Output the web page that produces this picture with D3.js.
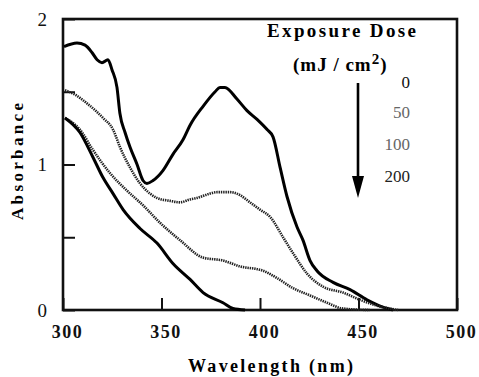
<!DOCTYPE html>
<html>
<head>
<meta charset="utf-8">
<script src="https://cdn.jsdelivr.net/npm/d3@7"></script>
<style>
  body { margin: 0; background: #fff; }
  svg { display: block; }
</style>
</head>
<body>
<div id="chart"></div>
<script>
// data (wavelength nm, absorbance)
var doses = ["0", "50", "100", "200"];

var dose0 = [[300.5,1.81],[307.1,1.835],[311.2,1.82],[314.7,1.77],[317.3,1.72],[319.8,1.70],[322.8,1.72],
  [324.9,1.65],[327.4,1.53],[328.9,1.35],[331.5,1.22],[334.0,1.12],[337.6,1.00],[340.6,0.89],[342.6,0.87],
  [345.7,0.89],[350.8,0.96],[355.8,1.07],[360.9,1.17],[364.5,1.27],[371.1,1.40],[377.2,1.50],[379.7,1.53],
  [382.2,1.53],[388.3,1.45],[393.4,1.37],[398.5,1.31],[403.6,1.24],[406.6,1.19],[410.2,0.98],[413.7,0.78],
  [418.8,0.57],[421.8,0.48],[425.4,0.34],[428.9,0.27],[437.1,0.19],[445.7,0.14],[454.3,0.07],[462.4,0.02],[467.5,0]];

var dose50 = [[301.0,1.51],[306.1,1.48],[312.2,1.42],[320.3,1.32],[325.4,1.24],[328.9,1.12],[334.0,0.98],
  [339.1,0.87],[344.2,0.80],[347.7,0.77],[354.3,0.75],[359.4,0.74],[364.5,0.76],[368.0,0.77],[374.6,0.80],
  [378.2,0.81],[384.8,0.81],[389.8,0.79],[394.9,0.74],[400.0,0.69],[405.1,0.64],[411.7,0.50],[416.8,0.39],
  [423.9,0.25],[432.0,0.16],[442.1,0.12],[450.8,0.07],[459.4,0.03],[466.0,0.01],[470.1,0]];

var dose100 = [[301.0,1.32],[308.6,1.24],[315.2,1.10],[323.9,0.94],[332.5,0.82],[340.6,0.72],[349.2,0.60],
  [359.4,0.48],[371.1,0.36],[381.2,0.34],[389.8,0.30],[401.5,0.27],[408.6,0.22],[416.8,0.15],[425.4,0.10],
  [434.0,0.05],[442.1,0.01],[455.8,0]];

var dose200 = [[301.0,1.32],[308.6,1.22],[315.2,1.05],[320.3,0.91],[325.4,0.80],[330.5,0.69],[339.1,0.56],
  [347.7,0.46],[355.8,0.32],[364.5,0.21],[371.1,0.12],[381.2,0.05],[386.3,0.01],[392.4,0]];

var xTicks = [300, 350, 400, 450, 500];
var yTicks = [0, 0.5, 1, 1.5, 2];

var serif = "Liberation Serif";
var width = 479, height = 377;

var svg = d3.select("#chart")
    .append("svg")
    .attr("width", width)
    .attr("height", height);

var x = d3.scaleLinear().domain([300, 500]).range([63, 457]);
var y = d3.scaleLinear().domain([0, 2]).range([310, 19]);

// x axis, ticks point inward
var gx = svg.append("g")
    .attr("transform", "translate(0," + y(0) + ")")
    .call(d3.axisBottom(x).tickValues(xTicks).tickSize(-12).tickPadding(15).tickFormat(d3.format("d")));
gx.select(".domain").remove();
gx.selectAll("line").attr("stroke", "#111").attr("stroke-width", 2);
gx.selectAll("text")
    .attr("dx", 4)
    .attr("fill", "#111")
    .style("font-family", serif)
    .style("font-size", "18px")
    .style("font-weight", "bold")
    .style("letter-spacing", "1.5px");

// y axis
var gy = svg.append("g")
    .attr("transform", "translate(" + x(300) + ",0)")
    .call(d3.axisLeft(y).tickValues(yTicks).tickSize(-12).tickPadding(16)
        .tickFormat(function(d) { return d % 1 === 0 ? d : ""; }));
gy.select(".domain").remove();
gy.selectAll("line").attr("stroke", "#111").attr("stroke-width", 2);
gy.selectAll("text").attr("fill", "#111").style("font-family", serif).style("font-size", "19px");

// frame
svg.append("rect")
    .attr("x", x(300))
    .attr("y", y(2))
    .attr("width", x(500) - x(300))
    .attr("height", y(0) - y(2))
    .attr("fill", "none")
    .attr("stroke", "#111")
    .attr("stroke-width", 2.6);

var line = d3.line()
    .x(function(d) { return x(d[0]); })
    .y(function(d) { return y(d[1]); })
    .curve(d3.curveMonotoneX);

var series = [
  { name: "0", values: dose0, dotted: false },
  { name: "50", values: dose50, dotted: true },
  { name: "100", values: dose100, dotted: true },
  { name: "200", values: dose200, dotted: false }
];

svg.selectAll("path.spec")
    .data(series)
    .enter()
    .append("path")
    .attr("class", "spec")
    .attr("d", function(d) { return line(d.values); })
    .attr("fill", "none")
    .attr("stroke", function(d) { return d.dotted ? "#222" : "#000"; })
    .attr("stroke-width", function(d) { return d.dotted ? 2.6 : 3; })
    .attr("stroke-dasharray", function(d) { return d.dotted ? "1.4,0.9" : null; })
    .attr("stroke-linejoin", "round");

// axis titles
svg.append("text")
    .attr("x", 188)
    .attr("y", 372)
    .attr("textLength", 165)
    .attr("lengthAdjust", "spacing")
    .style("font-family", serif)
    .style("font-size", "18px")
    .style("font-weight", "bold")
    .text("Wavelength (nm)");

svg.append("text")
    .attr("transform", "translate(23,220) rotate(-90)")
    .attr("textLength", 117)
    .attr("lengthAdjust", "spacing")
    .style("font-family", serif)
    .style("font-size", "17px")
    .style("font-weight", "bold")
    .text("Absorbance");

// legend
svg.append("text")
    .attr("x", 267)
    .attr("y", 37)
    .attr("textLength", 149)
    .attr("lengthAdjust", "spacing")
    .style("font-family", serif)
    .style("font-size", "19px")
    .style("font-weight", "bold")
    .text("Exposure Dose");

var unit = svg.append("text")
    .attr("x", 293)
    .attr("y", 71)
    .style("font-family", serif)
    .style("font-size", "19px")
    .style("font-weight", "bold")
    .style("letter-spacing", "1px");
unit.append("tspan").text("(mJ / cm");
unit.append("tspan").attr("dy", -7).style("font-size", "15px").text("2");
unit.append("tspan").attr("dy", 7).text(")");

var labelY = [88, 118, 150, 182];
var labelColor = ["#111", "#666", "#666", "#222"];
svg.selectAll("text.dose")
    .data(doses)
    .enter()
    .append("text")
    .attr("class", "dose")
    .attr("x", 410)
    .attr("y", function(d, i) { return labelY[i]; })
    .attr("text-anchor", "end")
    .style("font-family", serif)
    .style("font-size", "17px")
    .style("fill", function(d, i) { return labelColor[i]; })
    .text(function(d) { return d; });

// arrow
svg.append("line")
    .attr("x1", 358).attr("y1", 83)
    .attr("x2", 358).attr("y2", 180)
    .attr("stroke", "#000")
    .attr("stroke-width", 2.6);
svg.append("path")
    .attr("d", "M352,176 L364,176 L358,198 Z")
    .attr("fill", "#000");
</script>
</body>
</html>
